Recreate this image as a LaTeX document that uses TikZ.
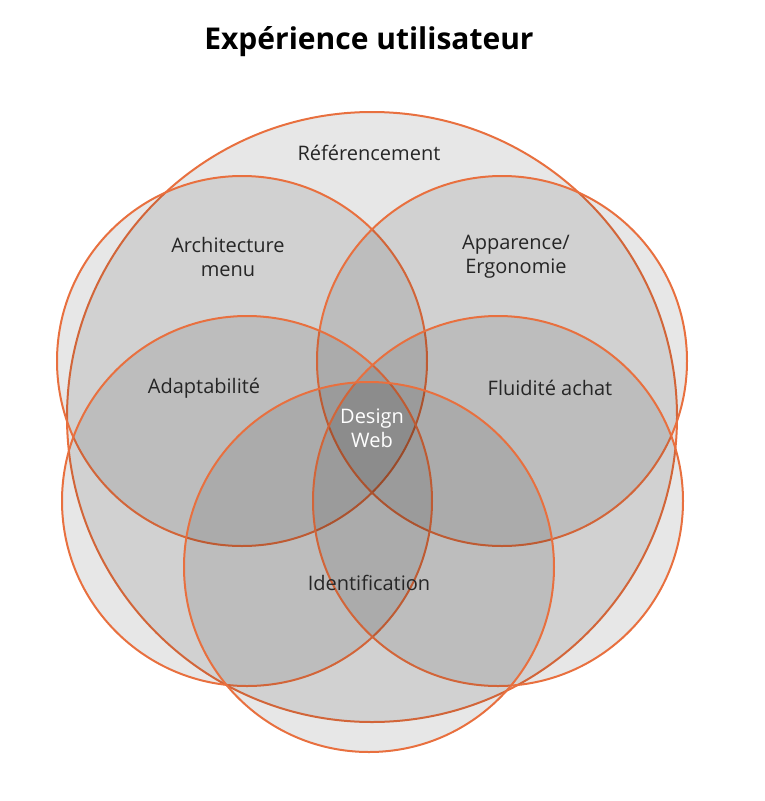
\documentclass[tikz,border=0pt]{standalone}
\usepackage{fontspec}
\setmainfont{Open Sans}
\usetikzlibrary{shapes.geometric, calc}
\definecolor{ring}{HTML}{E8703F}
\begin{document}
\begin{tikzpicture}[x=1pt, y=-1pt]
\tikzstyle{zone} = [circle, draw=ring, line width=2pt, fill=black, fill opacity=0.095, text opacity=1, inner sep=0pt]
\tikzstyle{label} = [font=\fontsize{20}{24}\selectfont, align=center, text=black!85]

\useasboundingbox (0,0) rectangle (764,801);

% Title
\node (title) at (369,42) {\fontsize{30}{36}\selectfont\bfseries Expérience utilisateur};

% Circles
\node (ref) [zone, minimum size=610pt] at (372,417) {};
\node (archi) [zone, minimum size=370pt] at (242,361) {};
\node (appar) [zone, minimum size=370pt] at (502,361) {};
\node (adapt) [zone, minimum size=370pt] at (247,501) {};
\node (fluid) [zone, minimum size=370pt] at (498,501) {};
\node (ident) [zone, minimum size=370pt] at (369,567) {};

% Labels
\node (tref) [label] at (369,153) {Référencement};
\node (tarchi) [label] at (228,257) {Architecture\\menu};
\node (tappar) [label] at (516,257) {Apparence/\\Ergonomie};
\node (tadapt) [label] at (204,388) {Adaptabilité};
\node (tfluid) [label] at (550,388) {Fluidité achat};
\node (tdesign) [label, text=white] at (372,428) {Design\\Web};
\node (tident) [label] at (369,583) {Identification};

\end{tikzpicture}
\end{document}
